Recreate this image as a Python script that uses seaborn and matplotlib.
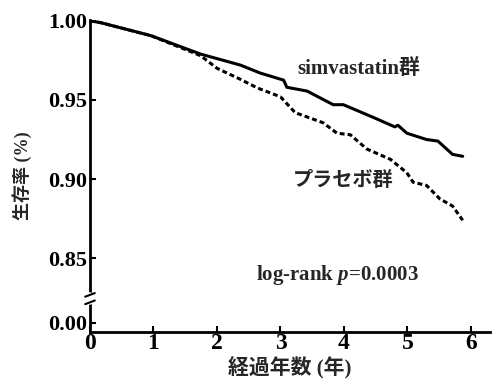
import matplotlib
matplotlib.use("Agg")
import matplotlib.pyplot as plt
import matplotlib.transforms as mtransforms
import seaborn as sns
import pandas as pd

# ---- data ----
simva_t = [0.00, 0.17, 0.96, 1.74, 2.37, 2.68, 3.05, 3.10, 3.42, 3.83, 3.99, 4.46, 4.80, 4.85, 4.99, 5.30, 5.48, 5.71, 5.87]
simva_s = [1.000, 0.9988, 0.9906, 0.979, 0.972, 0.967, 0.9625, 0.958, 0.9556, 0.947, 0.947, 0.939, 0.933, 0.934, 0.929, 0.925, 0.924, 0.9156, 0.9144]
placebo_t = [0.00, 0.17, 0.96, 1.74, 2.00, 2.37, 2.64, 3.00, 3.23, 3.67, 3.89, 4.10, 4.36, 4.73, 4.99, 5.09, 5.30, 5.51, 5.71, 5.87]
placebo_s = [1.000, 0.9988, 0.9906, 0.978, 0.970, 0.963, 0.9575, 0.952, 0.942, 0.9356, 0.929, 0.928, 0.919, 0.9125, 0.904, 0.898, 0.896, 0.8875, 0.883, 0.874]
groups = ["simvastatin群", "プラセボ群"]
x_ticks = [0, 1, 2, 3, 4, 5, 6]
y_ticks = [0.85, 0.90, 0.95, 1.00]
y_tick_labels = ["0.85", "0.90", "0.95", "1.00"]
y_zero_label = "0.00"
x_label = "経過年数 (年)"
y_label = "生存率 (%)"
p_text = "log-rank $p$=0.0003"

df = pd.concat([
    pd.DataFrame({"t": simva_t, "s": simva_s, "group": groups[0]}),
    pd.DataFrame({"t": placebo_t, "s": placebo_s, "group": groups[1]}),
])

sns.set_style("ticks")
plt.rcParams["font.family"] = ["Liberation Serif", "Noto Sans CJK JP", "DejaVu Sans"]
plt.rcParams["mathtext.fontset"] = "custom"
plt.rcParams["mathtext.it"] = "Liberation Serif:italic:bold"

fig = plt.figure(figsize=(4.97, 3.85), dpi=100)
ax = fig.add_axes([90 / 497, 1 - 332 / 385, (490 - 90) / 497, (332 - 20) / 385])

y_bottom = 0.8034
sns.lineplot(data=df, x="t", y="s", hue="group", style="group",
             palette=["black", "black"],
             dashes={groups[0]: "", groups[1]: (1.6, 1.0)},
             linewidth=2.2, estimator=None, sort=False, legend=False, ax=ax)

ax.set_xlim(0, 6.3)
ax.set_ylim(y_bottom, 1.0005)
ax.set_xticks(x_ticks)
ax.set_xticklabels([str(v) for v in x_ticks], fontsize=17, fontweight="bold")
ax.set_yticks(y_ticks + [y_bottom + 0.006])
ax.set_yticklabels(y_tick_labels + [y_zero_label], fontsize=16, fontweight="bold")
ax.tick_params(axis="both", direction="in", length=4, width=1.5, pad=2, colors="black")
ax.tick_params(axis="x", pad=1)
ax.set_xlabel(x_label, fontsize=15, fontweight="bold", labelpad=2)
ax.set_ylabel(y_label, fontsize=13, fontweight="bold", labelpad=12)
for side in ["top", "right"]:
    ax.spines[side].set_visible(False)
for side in ["left", "bottom"]:
    ax.spines[side].set_linewidth(2.0)
    ax.spines[side].set_color("black")

# axis break mark on the y axis
tr = mtransforms.blended_transform_factory(ax.transAxes, ax.transData)
yb = 0.8245
ax.plot([0, 0], [yb - 0.0022, yb + 0.0022], color="white", lw=4, transform=tr, clip_on=False, zorder=5)
ax.plot([-0.012, 0.012], [yb - 0.0035, yb - 0.0012], color="black", lw=1.5, transform=tr, clip_on=False, zorder=6)
ax.plot([-0.012, 0.012], [yb + 0.0012, yb + 0.0035], color="black", lw=1.5, transform=tr, clip_on=False, zorder=6)

ax.text(3.27, 0.9695, groups[0], fontsize=15, fontweight="bold", va="center", ha="left")
ax.text(3.19, 0.8985, groups[1], fontsize=14.5, fontweight="bold", va="center", ha="left")
ax.text(2.62, 0.8395, p_text, fontsize=15, fontweight="bold", va="center", ha="left")

fig.savefig("out.png", dpi=100)
